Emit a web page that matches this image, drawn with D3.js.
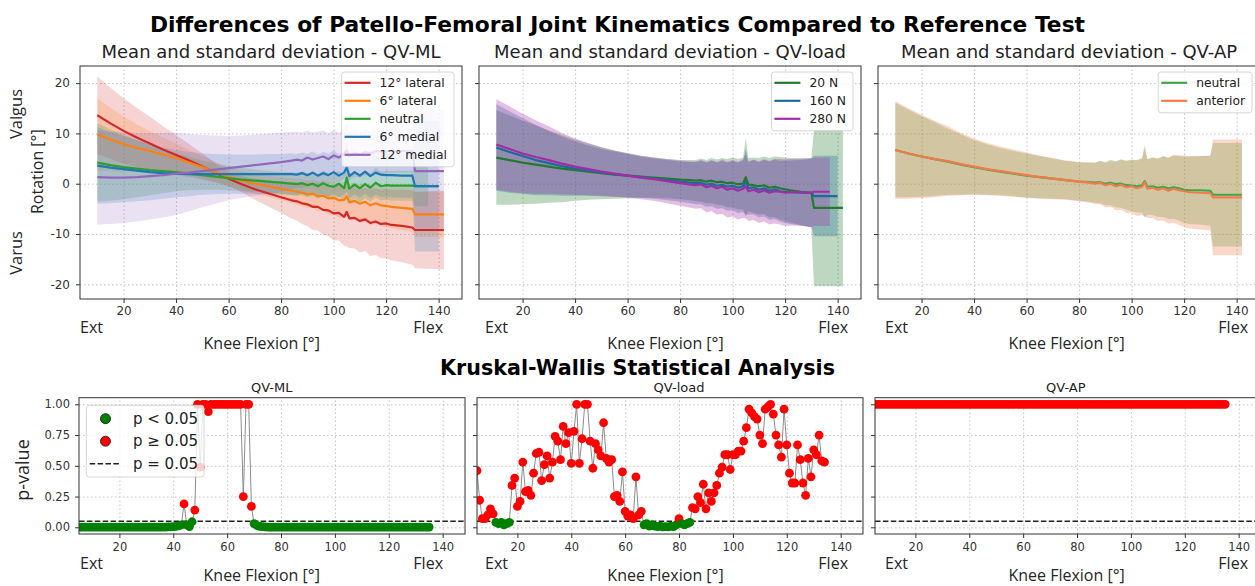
<!DOCTYPE html>
<html>
<head>
<meta charset="utf-8">
<script src="https://cdn.jsdelivr.net/npm/d3@7"></script>
<style>
  body { margin: 0; background: #fff; }
  svg { display: block; }
  .grid .domain, .axis .domain { display: none; }
  .grid line { stroke: #b4b4b4; stroke-width: 0.8; stroke-dasharray: 1.5 2.5; }
  .axis line { stroke: #333; }
  .axis text { font-family: "DejaVu Sans", sans-serif; fill: #333; }
  .axis-top text { font-size: 12px; }
  .axis-bot text { font-size: 11.5px; }
  .frame { fill: none; stroke: #333; stroke-width: 1; }
  .title { font-family: "DejaVu Sans", sans-serif; font-weight: bold; fill: #000; }
  .subtitle { font-family: "DejaVu Sans", sans-serif; fill: #222; }
  .label { font-family: "Open Sans", sans-serif; fill: #262626; }
  .legend text { font-family: "DejaVu Sans", sans-serif; fill: #222; }
</style>
</head>
<body>
<div id="chart"></div>
<script>
(function () {
  "use strict";

  // ── Data: knee flexion samples for the mean / SD curves ───────────────────
  const TOP_FLEX = [10, 15, 20, 25, 30, 35, 40, 45, 50, 55, 60, 65, 70, 75, 80, 84, 86, 88, 90, 92,
    94, 96, 98, 100, 102, 104, 105, 106, 108, 110, 112, 114, 116, 118, 120, 122, 126, 130, 131, 136,
    137, 140, 142];

  // QV-ML
  const ML_LABELS = ["12° lateral", "6° lateral", "neutral", "6° medial", "12° medial"];
  const ML_LAT12_MEAN = [13.6, 12.0, 10.5, 9.2, 8.0, 6.8, 5.7, 4.6, 3.4, 2.2, 1.0, -0.1, -1.1, -1.9, -2.7, -3.3,
    -3.5, -3.9, -4.1, -4.6, -4.6, -5.2, -5.3, -5.9, -5.8, -6.6, -5.6, -6.9, -6.8, -7.4, -7.1, -7.8, -7.5, -8.0,
    -7.9, -8.2, -8.4, -8.7, -9.2, -9.2, -9.2, -9.2, -9.2];
  const ML_LAT12_SD = [7.7, 7.1, 6.5, 5.9, 5.3, 4.6, 4.0, 3.3, 2.6, 1.9, 1.4, 1.6, 2.1, 2.6, 3.1, 3.6, 3.8, 4.1,
    4.3, 4.6, 4.7, 5.0, 5.1, 5.4, 5.5, 5.8, 6.9, 5.9, 6.1, 6.3, 6.3, 6.6, 6.6, 6.8, 6.9, 7.0, 7.2, 7.4, 7.6, 7.7,
    7.7, 7.8, 7.8];
  const ML_LAT6_MEAN = [9.8, 8.8, 7.9, 7.1, 6.5, 5.8, 5.1, 4.2, 3.3, 2.3, 1.3, 0.6, 0.0, -0.5, -1.0, -1.4, -1.6,
    -1.8, -2.1, -2.0, -2.5, -2.4, -2.9, -2.8, -3.3, -3.2, -2.5, -3.7, -3.4, -4.0, -3.6, -4.3, -3.9, -4.3, -4.4,
    -4.6, -4.8, -5.0, -6.1, -6.1, -6.1, -6.1, -6.1];
  const ML_LAT6_SD = [7.2, 6.3, 5.5, 4.7, 4.0, 3.4, 2.9, 2.5, 2.2, 2.0, 1.9, 1.9, 2.0, 2.1, 2.3, 2.5, 2.6, 2.7,
    2.8, 2.9, 3.0, 3.1, 3.2, 3.3, 3.4, 3.5, 3.9, 3.6, 3.7, 3.8, 3.9, 4.0, 4.0, 4.1, 4.2, 4.3, 4.4, 4.5, 4.5, 4.5,
    4.5, 4.5, 4.5];
  const ML_NEUTRAL_MEAN = [4.2, 3.7, 3.3, 3.0, 2.7, 2.5, 2.3, 2.0, 1.7, 1.4, 1.1, 0.8, 0.6, 0.4, 0.2, 0.0, -0.1,
    0.1, -0.3, 0.0, -0.5, 0.1, -0.4, -0.6, 0.0, -0.9, 1.2, -1.0, -0.2, -0.9, -0.1, -0.8, 0.2, -0.5, -0.3, -0.4,
    -0.4, -0.4, -0.5, -0.5, -0.5, -0.5, null];
  const ML_NEUTRAL_SD = [7.8, 7.1, 6.4, 5.7, 5.0, 4.4, 3.8, 3.3, 2.9, 2.6, 2.4, 2.3, 2.2, 2.2, 2.2, 2.3, 2.3, 2.4,
    2.4, 2.5, 2.5, 2.5, 2.6, 2.6, 2.6, 2.7, 3.0, 2.7, 2.7, 2.8, 2.8, 2.8, 2.9, 2.9, 2.9, 3.0, 3.0, 3.0, 4.0, 4.0,
    null, null, null];
  const ML_MED6_MEAN = [3.6, 3.2, 2.9, 2.6, 2.3, 2.1, 2.0, 1.9, 1.9, 1.9, 1.9, 1.9, 1.9, 1.9, 1.9, 1.9, 1.8, 2.1,
    1.7, 2.2, 1.6, 2.1, 1.7, 2.3, 1.6, 2.2, 3.3, 1.5, 2.3, 1.6, 2.4, 1.5, 2.2, 1.8, 1.7, 1.7, 1.6, 1.6, -0.5, -0.5,
    -0.5, -0.5, null];
  const ML_MED6_SD = [7.6, 7.1, 6.6, 6.1, 5.6, 5.1, 4.7, 4.4, 4.1, 4.0, 3.9, 3.9, 3.9, 4.0, 4.0, 4.1, 4.1, 4.1,
    4.2, 4.2, 4.2, 4.2, 4.3, 4.3, 4.3, 4.3, 4.8, 4.3, 4.4, 4.4, 4.4, 4.4, 4.4, 4.4, 4.4, 4.4, 4.4, 4.4, 13.0, 13.0,
    13.0, 13.0, null];
  const ML_MED12_MEAN = [1.3, 1.2, 1.2, 1.3, 1.5, 1.7, 2.0, 2.2, 2.5, 2.8, 3.1, 3.4, 3.7, 4.0, 4.3, 4.6, 4.8, 4.6,
    5.2, 4.8, 5.1, 5.4, 4.9, 5.6, 5.2, 5.9, 6.6, 5.5, 6.1, 5.8, 6.3, 6.0, 6.5, 6.3, 6.4, 6.5, 6.5, 6.5, 2.5, 2.5,
    2.5, 2.5, 2.5];
  const ML_MED12_SD = [9.4, 9.2, 9.0, 8.8, 8.6, 8.4, 8.2, 7.7, 7.2, 6.8, 6.4, 6.2, 6.1, 6.0, 5.9, 5.7, 5.6, 5.6,
    5.4, 5.4, 5.3, 5.2, 5.2, 5.0, 5.0, 4.9, 5.4, 4.8, 4.7, 4.6, 4.6, 4.5, 4.5, 4.4, 4.4, 4.4, 4.3, 4.3, 12.0, 12.0,
    12.0, 12.0, 12.0];

  // QV-load
  const LOAD_LABELS = ["20 N", "160 N", "280 N"];
  const LOAD_20_MEAN = [5.2, 4.7, 4.2, 3.8, 3.4, 3.0, 2.7, 2.4, 2.1, 1.8, 1.6, 1.4, 1.2, 1.0, 0.8, 0.7, 0.6, 0.7,
    0.4, 0.6, 0.3, 0.4, 0.1, 0.2, -0.1, 0.0, 1.3, -0.2, -0.3, -0.5, -0.3, -0.8, -0.6, -0.9, -1.1, -1.3, -1.6, -1.8,
    -4.8, -4.8, -4.8, -4.8, -4.8];
  const LOAD_20_SD = [9.4, 8.9, 8.3, 7.8, 7.2, 6.7, 6.1, 5.6, 5.2, 4.8, 4.5, 4.2, 4.0, 3.9, 3.9, 4.0, 4.1, 4.3, 4.3,
    4.5, 4.5, 4.7, 4.8, 5.0, 5.0, 5.2, 7.8, 5.3, 5.5, 5.6, 5.7, 5.9, 6.0, 6.2, 6.3, 6.4, 6.6, 6.9, 15.6, 15.6, 15.6,
    15.6, 15.6];
  const LOAD_160_MEAN = [7.2, 6.3, 5.5, 4.7, 4.1, 3.5, 3.0, 2.6, 2.2, 1.9, 1.6, 1.3, 1.0, 0.7, 0.4, 0.2, 0.1, 0.2,
    -0.2, 0.0, -0.4, -0.2, -0.6, -0.4, -0.8, -0.5, 0.4, -0.9, -0.7, -1.2, -0.9, -1.4, -1.1, -1.5, -1.6, -1.7, -1.8,
    -1.8, -2.45, -2.45, -2.45, -2.45, null];
  const LOAD_160_SD = [8.6, 8.1, 7.5, 7.0, 6.4, 5.9, 5.4, 5.0, 4.7, 4.5, 4.3, 4.1, 4.0, 4.0, 4.0, 4.1, 4.2, 4.3,
    4.4, 4.5, 4.6, 4.7, 4.8, 4.9, 5.0, 5.1, 6.5, 5.2, 5.4, 5.5, 5.6, 5.8, 5.9, 6.0, 6.2, 6.3, 6.5, 6.8, 8.0, 8.0,
    8.0, 8.0, null];
  const LOAD_280_MEAN = [7.8, 6.9, 6.0, 5.3, 4.7, 4.0, 3.4, 2.9, 2.4, 2.0, 1.6, 1.2, 0.9, 0.5, 0.1, -0.2, -0.3,
    -0.1, -0.7, -0.4, -0.9, -0.6, -1.2, -0.9, -1.4, -1.0, -0.5, -1.5, -1.2, -1.7, -1.3, -1.8, -1.5, -1.6, -1.8, -1.7,
    -1.7, -1.8, -1.6, -1.6, -1.6, null, null];
  const LOAD_280_SD = [9.0, 8.5, 7.9, 7.3, 6.7, 6.1, 5.6, 5.2, 4.8, 4.6, 4.4, 4.3, 4.3, 4.4, 4.5, 4.6, 4.7, 4.8,
    5.0, 5.1, 5.2, 5.4, 5.5, 5.6, 5.7, 5.8, 6.4, 5.9, 6.0, 6.1, 6.2, 6.3, 6.4, 6.5, 6.6, 6.6, 6.7, 6.8, 6.8, 6.8,
    6.8, null, null];

  // QV-AP
  const AP_LABELS = ["neutral", "anterior"];
  const AP_NEUTRAL_MEAN = [6.7, 6.0, 5.4, 4.9, 4.4, 3.8, 3.3, 2.8, 2.4, 2.0, 1.6, 1.3, 1.0, 0.7, 0.4, 0.3, 0.2, 0.3,
    0.0, 0.2, -0.1, 0.0, -0.3, -0.4, -0.5, -0.3, 0.5, -0.6, -0.5, -0.8, -0.6, -0.9, -0.7, -0.9, -1.2, -1.3, -1.3,
    -1.4, -2.2, -2.2, -2.2, -2.2, -2.2];
  const AP_NEUTRAL_SD = [9.4, 8.7, 8.0, 7.3, 6.6, 6.0, 5.4, 5.0, 4.7, 4.5, 4.4, 4.2, 4.0, 3.8, 3.8, 3.9, 4.0, 4.2,
    4.3, 4.5, 4.6, 4.8, 4.9, 5.1, 5.2, 5.4, 7.2, 5.5, 5.7, 5.8, 6.0, 6.1, 6.3, 6.4, 6.6, 6.7, 6.8, 7.0, 10.3, 10.3,
    10.3, 10.3, 10.3];
  const AP_ANTERIOR_MEAN = [6.7, 6.0, 5.4, 4.9, 4.5, 3.9, 3.4, 2.9, 2.5, 2.1, 1.7, 1.3, 1.0, 0.7, 0.4, 0.2, 0.0,
    0.2, -0.3, 0.0, -0.5, -0.2, -0.7, -0.5, -0.9, -0.6, 0.3, -1.0, -0.8, -1.2, -0.9, -1.4, -1.0, -1.3, -1.5, -1.7,
    -1.8, -1.9, -2.7, -2.7, -2.7, -2.7, -2.7];
  const AP_ANTERIOR_SD = [9.7, 9.0, 8.3, 7.6, 6.9, 6.2, 5.6, 5.2, 4.9, 4.7, 4.5, 4.3, 4.1, 3.9, 3.9, 4.0, 4.1, 4.3,
    4.4, 4.6, 4.8, 5.0, 5.1, 5.3, 5.5, 5.6, 6.8, 5.8, 6.0, 6.2, 6.4, 6.5, 6.7, 6.9, 7.1, 7.2, 7.3, 7.4, 11.5, 11.5,
    11.5, 11.5, 11.5];

  // ── Data: Kruskal-Wallis p-values, one per degree of flexion (5..135) ──────
  const P_FLEX = d3.range(5, 136);
  const P_ML = [
    0.002, 0.001, 0.002, 0.001, 0.001, 0.002, 0.001, 0.001, 0.002, 0.001,
    0.001, 0.001, 0.002, 0.001, 0.001, 0.001, 0.002, 0.001, 0.001, 0.002,
    0.001, 0.001, 0.001, 0.002, 0.001, 0.001, 0.002, 0.001, 0.001, 0.002,
    0.001, 0.002, 0.002, 0.003, 0.004, 0.005, 0.008, 0.012, 0.02,
    0.19, 0.02, 0.006, 0.045, 0.14, 1.0, 0.49, 1.0, 1.0, 0.94,
    1.0, 1.0, 1.0, 1.0, 1.0, 1.0, 1.0, 1.0, 1.0, 1.0,
    1.0, 1.0, 0.25, 1.0, 1.0, 0.17, 0.03, 0.015, 0.008, 0.005,
    0.003, 0.002, 0.002, 0.001, 0.002, 0.001, 0.001, 0.002, 0.001, 0.001,
    0.002, 0.001, 0.001, 0.001, 0.002, 0.001, 0.001, 0.002, 0.001, 0.001,
    0.001, 0.002, 0.001, 0.001, 0.002, 0.001, 0.001, 0.001, 0.002, 0.001,
    0.001, 0.002, 0.001, 0.001, 0.001, 0.002, 0.001, 0.001, 0.002, 0.001,
    0.001, 0.001, 0.002, 0.001, 0.001, 0.002, 0.001, 0.001, 0.001, 0.002,
    0.001, 0.001, 0.002, 0.001, 0.001, 0.001, 0.002, 0.001, 0.001, 0.002,
    0.001, 0.002];
  const P_LOAD = [
    0.46, 0.22, 0.07, 0.07, 0.10, 0.15, 0.11, 0.04, 0.03, 0.04,
    0.02, 0.03, 0.04, 0.34, 0.40, 0.17, 0.21, 0.53, 0.29, 0.30,
    0.26, 0.44, 0.60, 0.61, 0.38, 0.51, 0.58, 0.40, 0.53, 0.74,
    0.70, 0.55, 0.82, 0.68, 0.77, 0.52, 0.78, 1.00, 0.52, 0.72,
    1.00, 1.00, 0.70, 0.48, 0.68, 0.63, 0.58, 0.85, 0.56, 0.53,
    0.55, 0.25, 0.26, 0.21, 0.45, 0.13, 0.09, 0.10, 0.07, 0.41,
    0.10, 0.13, 0.02, 0.03, 0.01, 0.02, 0.01, 0.005, 0.01, 0.003,
    0.005, 0.004, 0.01, 0.006, 0.02, 0.07, 0.03, 0.02, 0.03, 0.04,
    0.16, 0.15, 0.25, 0.20, 0.35, 0.15, 0.28, 0.21, 0.28, 0.34,
    0.44, 0.49, 0.59, 0.59, 0.47, 0.59, 0.59, 0.62, 0.62, 0.70,
    0.81, 0.96, 0.93, 0.90, 0.88, 0.75, 0.68, 0.96, 0.98, 1.00,
    0.92, 0.75, 0.67, 0.57, 0.96, 0.67, 0.44, 0.36, 0.36, 0.67,
    0.55, 0.36, 0.26, 0.56, 0.41, 0.63, 0.59, 0.75, 0.54, 0.53,
    null];
  const P_AP = [
    1, 1, 1, 1, 1, 1, 1, 1, 1, 1,  1, 1, 1, 1, 1, 1, 1, 1, 1, 1,
    1, 1, 1, 1, 1, 1, 1, 1, 1, 1,  1, 1, 1, 1, 1, 1, 1, 1, 1, 1,
    1, 1, 1, 1, 1, 1, 1, 1, 1, 1,  1, 1, 1, 1, 1, 1, 1, 1, 1, 1,
    1, 1, 1, 1, 1, 1, 1, 1, 1, 1,  1, 1, 1, 1, 1, 1, 1, 1, 1, 1,
    1, 1, 1, 1, 1, 1, 1, 1, 1, 1,  1, 1, 1, 1, 1, 1, 1, 1, 1, 1,
    1, 1, 1, 1, 1, 1, 1, 1, 1, 1,  1, 1, 1, 1, 1, 1, 1, 1, 1, 1,
    1, 1, 1, 1, 1, 1, 1, 1, 1, 1,  1];
  const ALPHA_P = 0.05;

  // Tick values
  const X_TICKS = [20, 40, 60, 80, 100, 120, 140];
  const ROT_TICKS = [-20, -10, 0, 10, 20];
  const P_TICKS = [0, 0.25, 0.5, 0.75, 1];

  // Colours
  const ML_COLORS = ["#d62728", "#ff7f0e", "#2ca02c", "#1f77b4", "#9467bd"];
  const LOAD_COLORS = ["#237a2e", "#1c6b9b", "#a52aa6"];
  const AP_COLORS = ["#3da84a", "#f37b4b"];
  const SIG_COLOR = "#008000";
  const NS_COLOR = "#ff0000";

  // ── Layout ────────────────────────────────────────────────────────────────
  const W = 1255, H = 586;
  const TOP_LEFT = [80, 479, 878], TOP_W = 382, TOP_Y = 66, TOP_H = 233;
  const TOP_X_DOMAIN = [3.4, 148.9], TOP_Y_DOMAIN = [-22.92, 23.4];
  const BOT_LEFT = [79, 477, 875], BOT_W = 386, BOT_Y = 397.7, BOT_H = 136.3;
  const BOT_X_DOMAIN = [5, 148.3], BOT_Y_DOMAIN = [-0.0545, 1.0537];
  const EXT_X = [80, 485, 885], FLEX_X = [443, 848, 1248], KNEE_X = [261.7, 665.5, 1066.6];

  const svg = d3.select("#chart").append("svg")
    .attr("width", W).attr("height", H)
    .attr("viewBox", `0 0 ${W} ${H}`);
  svg.append("rect").attr("width", W).attr("height", H).attr("fill", "#fff");
  const defs = svg.append("defs");

  // Legend helper: items {label, color, kind}
  function drawLegend(parent, items, o) {
    const lg = parent.append("g").attr("class", "legend");
    const box = lg.append("rect")
      .attr("rx", 3).attr("fill", "#fff").attr("fill-opacity", 0.8)
      .attr("stroke", "#cccccc").attr("stroke-width", 0.8);
    let maxW = 0;
    items.forEach((it, k) => {
      const cy = o.firstRow + k * o.rowH;
      const hx = o.padL, hw = o.handleW;
      if (it.kind === "line") {
        lg.append("line").attr("x1", hx).attr("x2", hx + hw).attr("y1", cy).attr("y2", cy)
          .attr("stroke", it.color).attr("stroke-width", 2.2);
      } else if (it.kind === "dot") {
        lg.append("circle").attr("cx", hx + hw / 2).attr("cy", cy).attr("r", o.dotR)
          .attr("fill", it.color).attr("stroke", "#111").attr("stroke-width", 0.8);
      } else {
        lg.append("line").attr("x1", hx).attr("x2", hx + hw).attr("y1", cy).attr("y2", cy)
          .attr("stroke", "#222").attr("stroke-width", 1.5).attr("stroke-dasharray", "5.5,2.4");
      }
      const t = lg.append("text").attr("x", hx + hw + o.gap).attr("y", cy).attr("dy", "0.35em")
        .attr("font-size", o.font).text(it.label);
      maxW = Math.max(maxW, t.node().getComputedTextLength());
    });
    const bw = o.padL + o.handleW + o.gap + maxW + o.padR;
    const bh = o.firstRow + (items.length - 1) * o.rowH + o.padB;
    box.attr("width", bw).attr("height", bh);
    const lx = o.right != null ? o.right - bw : o.left;
    lg.attr("transform", `translate(${lx},${o.top})`);
  }

  // ── Top row: mean ± SD ───────────────────────────────────────────────────
  const topPanels = [
    {
      title: "Mean and standard deviation - QV-ML", alpha: 0.2,
      series: [
        { mean: ML_LAT12_MEAN, sd: ML_LAT12_SD },
        { mean: ML_LAT6_MEAN, sd: ML_LAT6_SD },
        { mean: ML_NEUTRAL_MEAN, sd: ML_NEUTRAL_SD },
        { mean: ML_MED6_MEAN, sd: ML_MED6_SD },
        { mean: ML_MED12_MEAN, sd: ML_MED12_SD }
      ].map((s, k) => Object.assign(s, { label: ML_LABELS[k], color: ML_COLORS[k] }))
    },
    {
      title: "Mean and standard deviation - QV-load", alpha: 0.3,
      series: [
        { mean: LOAD_20_MEAN, sd: LOAD_20_SD },
        { mean: LOAD_160_MEAN, sd: LOAD_160_SD },
        { mean: LOAD_280_MEAN, sd: LOAD_280_SD }
      ].map((s, k) => Object.assign(s, { label: LOAD_LABELS[k], color: LOAD_COLORS[k] }))
    },
    {
      title: "Mean and standard deviation - QV-AP", alpha: 0.3,
      series: [
        { mean: AP_NEUTRAL_MEAN, sd: AP_NEUTRAL_SD },
        { mean: AP_ANTERIOR_MEAN, sd: AP_ANTERIOR_SD }
      ].map((s, k) => Object.assign(s, { label: AP_LABELS[k], color: AP_COLORS[k] }))
    }
  ];

  topPanels.forEach((cfg, i) => {
    const left = TOP_LEFT[i], right = left + TOP_W, bottom = TOP_Y + TOP_H;
    const x = d3.scaleLinear().domain(TOP_X_DOMAIN).range([left, right]);
    const y = d3.scaleLinear().domain(TOP_Y_DOMAIN).range([bottom, TOP_Y]);
    const g = svg.append("g").attr("class", "panel-top");

    const clipId = "clip-top-" + i;
    defs.append("clipPath").attr("id", clipId).append("rect")
      .attr("x", left).attr("y", TOP_Y).attr("width", TOP_W).attr("height", TOP_H);

    // grid
    g.append("g").attr("class", "grid").attr("transform", `translate(0,${bottom})`)
      .call(d3.axisBottom(x).tickValues(X_TICKS).tickSize(-TOP_H).tickFormat(""));
    g.append("g").attr("class", "grid").attr("transform", `translate(${left},0)`)
      .call(d3.axisLeft(y).tickValues(ROT_TICKS).tickSize(-TOP_W).tickFormat(""));

    const plot = g.append("g").attr("clip-path", `url(#${clipId})`);
    const rowsOf = s => TOP_FLEX.map((f, k) => ({ f, m: s.mean[k], s: s.sd[k] }));
    const area = d3.area()
      .defined(d => d.m != null && d.s != null)
      .x(d => x(d.f)).y0(d => y(d.m - d.s)).y1(d => y(d.m + d.s));
    const line = d3.line()
      .defined(d => d.m != null)
      .x(d => x(d.f)).y(d => y(d.m));

    cfg.series.forEach(s => {
      plot.append("path").attr("d", area(rowsOf(s)))
        .attr("fill", s.color).attr("fill-opacity", cfg.alpha).attr("stroke", "none");
    });
    cfg.series.forEach(s => {
      plot.append("path").attr("d", line(rowsOf(s)))
        .attr("fill", "none").attr("stroke", s.color).attr("stroke-width", 2.2)
        .attr("stroke-linejoin", "round");
    });

    // axes
    g.append("g").attr("class", "axis axis-top").attr("transform", `translate(0,${bottom})`)
      .call(d3.axisBottom(x).tickValues(X_TICKS).tickSize(4).tickPadding(3).tickFormat(d => String(d)));
    g.append("g").attr("class", "axis axis-top").attr("transform", `translate(${left},0)`)
      .call(d3.axisLeft(y).tickValues(ROT_TICKS).tickSize(4).tickPadding(6)
        .tickFormat(i === 0 ? (d => String(d)) : ""));

    g.append("rect").attr("class", "frame")
      .attr("x", left).attr("y", TOP_Y).attr("width", TOP_W).attr("height", TOP_H);

    // titles / labels
    svg.append("text").attr("class", "subtitle")
      .attr("x", (left + right) / 2).attr("y", 58).attr("text-anchor", "middle")
      .attr("font-size", 18).text(cfg.title);
    svg.append("text").attr("class", "label").attr("x", EXT_X[i]).attr("y", 333)
      .attr("font-size", 16).text("Ext");
    svg.append("text").attr("class", "label").attr("x", FLEX_X[i]).attr("y", 333)
      .attr("text-anchor", "end").attr("font-size", 16).text("Flex");
    svg.append("text").attr("class", "label").attr("x", KNEE_X[i]).attr("y", 348.5)
      .attr("text-anchor", "middle").attr("font-size", 16).text("Knee Flexion [°]");

    drawLegend(g, cfg.series.map(s => ({ label: s.label, color: s.color, kind: "line" })), {
      right: right - 8, top: TOP_Y + 6, font: 12.3, rowH: 18, firstRow: 10.8, padB: 12,
      padL: 3, handleW: 26, gap: 9, padR: 7
    });
  });

  // y labels (top row)
  svg.append("text").attr("class", "label").attr("font-size", 16).attr("text-anchor", "middle")
    .attr("transform", "translate(42.5,171.7) rotate(-90)").text("Rotation [°]");
  svg.append("text").attr("class", "label").attr("font-size", 16.5).attr("text-anchor", "middle")
    .attr("transform", "translate(22,114) rotate(-90)").text("Valgus");
  svg.append("text").attr("class", "label").attr("font-size", 16.5).attr("text-anchor", "middle")
    .attr("transform", "translate(22,253) rotate(-90)").text("Varus");

  // ── Bottom row: Kruskal-Wallis p-values ───────────────────────────────────
  const botPanels = [
    { title: "QV-ML", titleX: 271.7, values: P_ML },
    { title: "QV-load", titleX: 679, values: P_LOAD },
    { title: "QV-AP", titleX: 1065.8, values: P_AP }
  ];

  botPanels.forEach((cfg, i) => {
    const left = BOT_LEFT[i], right = left + BOT_W, bottom = BOT_Y + BOT_H;
    const x = d3.scaleLinear().domain(BOT_X_DOMAIN).range([left, right]);
    const y = d3.scaleLinear().domain(BOT_Y_DOMAIN).range([bottom, BOT_Y]);
    const g = svg.append("g").attr("class", "panel-bot");

    const clipId = "clip-bot-" + i;
    defs.append("clipPath").attr("id", clipId).append("rect")
      .attr("x", left).attr("y", BOT_Y).attr("width", BOT_W).attr("height", BOT_H);

    g.append("g").attr("class", "grid").attr("transform", `translate(0,${bottom})`)
      .call(d3.axisBottom(x).tickValues(X_TICKS).tickSize(-BOT_H).tickFormat(""));
    g.append("g").attr("class", "grid").attr("transform", `translate(${left},0)`)
      .call(d3.axisLeft(y).tickValues(P_TICKS).tickSize(-BOT_W).tickFormat(""));

    const pts = P_FLEX.map((f, k) => ({ f, p: cfg.values[k] })).filter(d => d.p != null);
    const plot = g.append("g").attr("clip-path", `url(#${clipId})`);

    plot.append("path")
      .attr("d", d3.line().x(d => x(d.f)).y(d => y(d.p))(pts))
      .attr("fill", "none").attr("stroke", "#808080").attr("stroke-width", 1).attr("stroke-opacity", 0.9);

    plot.append("line")
      .attr("x1", left).attr("x2", right).attr("y1", y(ALPHA_P)).attr("y2", y(ALPHA_P))
      .attr("stroke", "#222").attr("stroke-width", 1.5).attr("stroke-dasharray", "5.5,2.4");

    plot.selectAll("circle").data(pts).join("circle")
      .attr("cx", d => x(d.f)).attr("cy", d => y(d.p)).attr("r", 4.4)
      .attr("fill", d => d.p < ALPHA_P ? SIG_COLOR : NS_COLOR);

    g.append("g").attr("class", "axis axis-bot").attr("transform", `translate(0,${bottom})`)
      .call(d3.axisBottom(x).tickValues(X_TICKS).tickSize(4).tickPadding(4.5).tickFormat(d => String(d)));
    g.append("g").attr("class", "axis axis-bot").attr("transform", `translate(${left},0)`)
      .call(d3.axisLeft(y).tickValues(P_TICKS).tickSize(4).tickPadding(5)
        .tickFormat(i === 0 ? d3.format(".2f") : ""));

    g.append("rect").attr("class", "frame")
      .attr("x", left).attr("y", BOT_Y).attr("width", BOT_W).attr("height", BOT_H);

    svg.append("text").attr("class", "subtitle")
      .attr("x", cfg.titleX).attr("y", 391.5).attr("text-anchor", "middle")
      .attr("font-size", 13).text(cfg.title);
    svg.append("text").attr("class", "label").attr("x", EXT_X[i]).attr("y", 569)
      .attr("font-size", 16).text("Ext");
    svg.append("text").attr("class", "label").attr("x", FLEX_X[i]).attr("y", 569)
      .attr("text-anchor", "end").attr("font-size", 16).text("Flex");
    svg.append("text").attr("class", "label").attr("x", KNEE_X[i]).attr("y", 581)
      .attr("text-anchor", "middle").attr("font-size", 16).text("Knee Flexion [°]");

    if (i === 0) {
      drawLegend(g, [
        { label: "p < 0.05", color: SIG_COLOR, kind: "dot" },
        { label: "p ≥ 0.05", color: NS_COLOR, kind: "dot" },
        { label: "p = 0.05", kind: "dash" }
      ], {
        left: left + 7.3, top: BOT_Y + 7.6, font: 15, rowH: 22.5, firstRow: 13.4, padB: 13.3,
        padL: 3.4, handleW: 31.6, gap: 11.7, padR: 6, dotR: 5
      });
    }
  });

  svg.append("text").attr("class", "label").attr("font-size", 18).attr("text-anchor", "middle")
    .attr("transform", "translate(29,470) rotate(-90)").text("p-value");

  // ── Main titles ───────────────────────────────────────────────────────────
  svg.append("text").attr("class", "title")
    .attr("x", 617.5).attr("y", 31.5).attr("text-anchor", "middle")
    .attr("font-size", 21.6).attr("textLength", 935).attr("lengthAdjust", "spacingAndGlyphs")
    .text("Differences of Patello-Femoral Joint Kinematics Compared to Reference Test");
  svg.append("text").attr("class", "title")
    .attr("x", 637.5).attr("y", 375).attr("text-anchor", "middle")
    .attr("font-size", 20.5).attr("textLength", 395).attr("lengthAdjust", "spacingAndGlyphs")
    .text("Kruskal-Wallis Statistical Analysis");
})();
</script>
</body>
</html>
